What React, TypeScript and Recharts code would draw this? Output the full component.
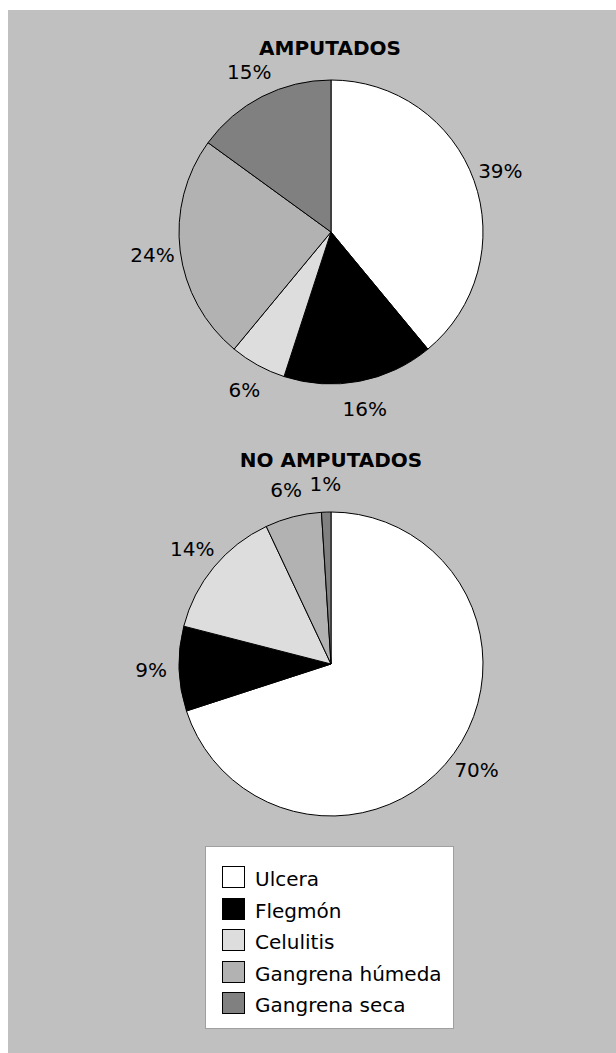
import React from 'react';
import { PieChart, Pie, Cell, Legend } from 'recharts';

const categories = ['Ulcera', 'Flegmón', 'Celulitis', 'Gangrena húmeda', 'Gangrena seca'];
const amputados = [39, 16, 6, 24, 15];
const noAmputados = [70, 9, 14, 6, 1];
const colors = ['#FFFFFF', '#000000', '#DDDDDD', '#B2B2B2', '#808080'];
const titles = ['AMPUTADOS', 'NO AMPUTADOS'];

const dataA = categories.map((name, i) => ({ name, value: amputados[i] }));
const dataB = categories.map((name, i) => ({ name, value: noAmputados[i] }));

const FONT = "'DejaVu Sans', Verdana, sans-serif";
const RAD = Math.PI / 180;

const renderLabel = (props: any) => {
  const { cx, cy, midAngle, outerRadius, value } = props;
  const r = outerRadius + 28;
  const x = cx + r * Math.cos(-midAngle * RAD);
  const y = cy + r * Math.sin(-midAngle * RAD);
  return (
    <text x={x} y={y} textAnchor="middle" dominantBaseline="central" fontFamily={FONT} fontSize={20} fill="#000">
      {`${value}%`}
    </text>
  );
};

const renderLegend = () => (
  <div
    style={{
      width: 249,
      height: 183,
      boxSizing: 'border-box',
      border: '1px solid #A0A0A0',
      background: '#FFFFFF',
      position: 'relative',
      fontFamily: FONT,
      fontSize: 20,
    }}
  >
    {categories.map((c, i) => (
      <div key={c} style={{ position: 'absolute', left: 16, top: 19 + i * 31.5, height: 22, display: 'flex', alignItems: 'center' }}>
        <div style={{ width: 23, height: 22, boxSizing: 'border-box', border: '1px solid #000', background: colors[i] }} />
        <span style={{ marginLeft: 10, lineHeight: '22px', position: 'relative', top: 2, color: '#000', whiteSpace: 'nowrap' }}>{c}</span>
      </div>
    ))}
  </div>
);

export default function App() {
  return (
    <>
      <style>{`body{margin:0;overflow:hidden;}`}</style>
      <div style={{ position: 'absolute', left: 8, top: 10, width: 608, height: 1043, background: '#C0C0C0' }}>
        <PieChart width={608} height={1043} margin={{ top: 0, right: 0, bottom: 0, left: 0 }}>
          <text x={322} y={45} textAnchor="middle" fontFamily={FONT} fontSize={20} fontWeight="bold" fill="#000">{titles[0]}</text>
          <text x={323} y={457} textAnchor="middle" fontFamily={FONT} fontSize={20} fontWeight="bold" fill="#000">{titles[1]}</text>
          <Pie
            data={dataA}
            dataKey="value"
            nameKey="name"
            cx={323}
            cy={222}
            outerRadius={152}
            startAngle={90}
            endAngle={-270}
            stroke="#000"
            strokeWidth={1}
            label={renderLabel}
            labelLine={false}
            isAnimationActive={false}
            legendType="none"
          >
            {dataA.map((d, i) => (
              <Cell key={d.name} fill={colors[i]} />
            ))}
          </Pie>
          <Pie
            data={dataB}
            dataKey="value"
            nameKey="name"
            cx={323}
            cy={654}
            outerRadius={152}
            startAngle={90}
            endAngle={-270}
            stroke="#000"
            strokeWidth={1}
            label={renderLabel}
            labelLine={false}
            isAnimationActive={false}
            legendType="none"
          >
            {dataB.map((d, i) => (
              <Cell key={d.name} fill={colors[i]} />
            ))}
          </Pie>
          <Legend content={renderLegend} wrapperStyle={{ left: 197, top: 836, width: 249, height: 183 }} />
        </PieChart>
      </div>
    </>
  );
}
